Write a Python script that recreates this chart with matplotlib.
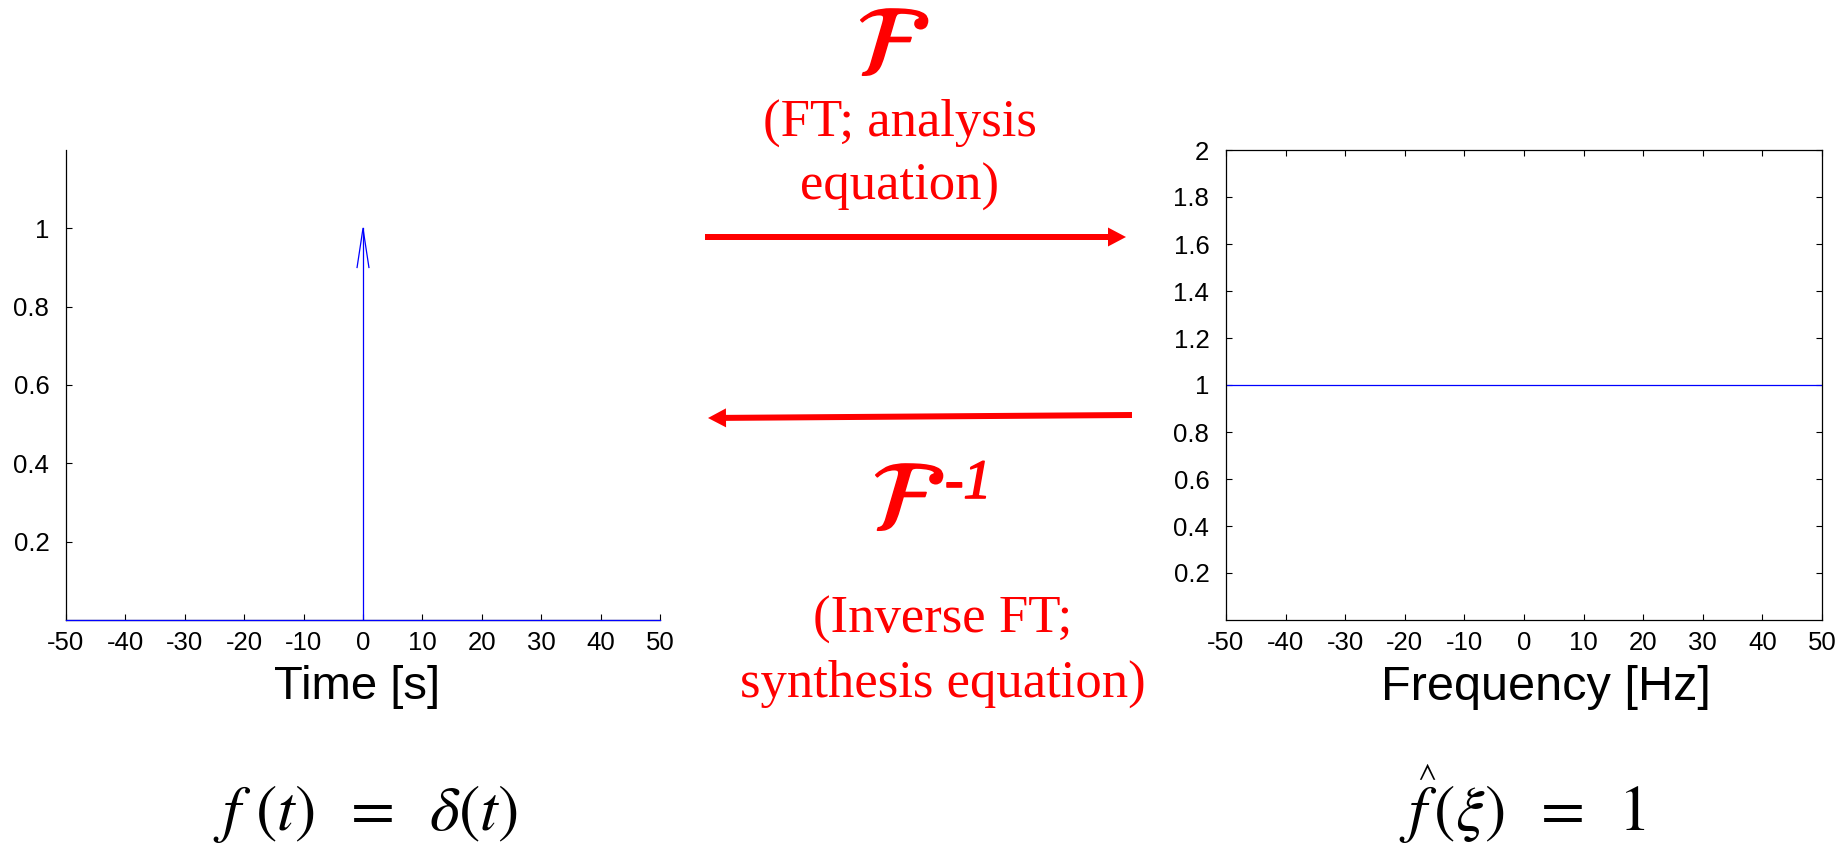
import matplotlib
matplotlib.use("Agg")
import matplotlib.pyplot as plt
import matplotlib.patheffects as pe
from matplotlib.patches import FancyArrow
from matplotlib.ticker import FuncFormatter

# time domain: unit impulse at t = 0
time_span = [-50, 50]
time_baseline = [0, 0]
impulse_t = [0, 0]
impulse_amp = [0, 1]
impulse_head_t = [-1, 0, 1]
impulse_head_amp = [0.9, 1, 0.9]

# frequency domain: flat spectrum
freq_span = [-50, 50]
spectrum_level = [1, 1]

x_ticks = [-50, -40, -30, -20, -10, 0, 10, 20, 30, 40, 50]
time_yticks = [0.2, 0.4, 0.6, 0.8, 1.0]
freq_yticks = [0.2, 0.4, 0.6, 0.8, 1.0, 1.2, 1.4, 1.6, 1.8, 2.0]

forward_label = "(FT; analysis\nequation)"
inverse_label = "(Inverse FT;\nsynthesis equation)"

W, H = 1849, 855
RED = "#ff0000"
BLUE = "#0000ff"

plt.rcParams["axes.unicode_minus"] = False
plt.rcParams["mathtext.fontset"] = "stix"
plt.rcParams["font.family"] = ["Liberation Sans", "DejaVu Sans"]

fig = plt.figure(figsize=(W / 100, H / 100), dpi=100)
fmt = FuncFormatter(lambda v, _: f"{v:g}")


def style_axis(ax):
    ax.set_xlim(-50, 50)
    ax.set_xticks(x_ticks)
    ax.xaxis.set_major_formatter(fmt)
    ax.yaxis.set_major_formatter(fmt)
    ax.tick_params(direction="in", length=4.5, width=0.8, labelsize=18.5, colors="black")
    ax.tick_params(axis="y", pad=12)
    ax.tick_params(axis="x", pad=8)
    for s in ax.spines.values():
        s.set_linewidth(0.9)


# left panel: impulse
ax_t = fig.add_axes([66 / W, 1 - 620 / H, 594 / W, 470 / H])
ax_t.plot(time_span, time_baseline, color=BLUE, lw=0.9, clip_on=False, zorder=3)
ax_t.plot(impulse_t, impulse_amp, color=BLUE, lw=0.9)
ax_t.plot(impulse_head_t, impulse_head_amp, color=BLUE, lw=0.9)
style_axis(ax_t)
ax_t.set_ylim(0, 1.2)
ax_t.set_yticks(time_yticks)
ax_t.spines["top"].set_visible(False)
ax_t.spines["right"].set_visible(False)
ax_t.set_xlabel("Time [s]", fontsize=34)
ax_t.xaxis.set_label_coords(0.49, -0.095)

# right panel: spectrum
ax_f = fig.add_axes([1226 / W, 1 - 620 / H, 596 / W, 470 / H])
ax_f.plot(freq_span, spectrum_level, color=BLUE, lw=0.9)
style_axis(ax_f)
ax_f.set_ylim(0, 2)
ax_f.set_yticks(freq_yticks)
ax_f.tick_params(top=True, right=True)
ax_f.set_xlabel("Frequency [Hz]", fontsize=35)
ax_f.xaxis.set_label_coords(0.537, -0.095)

# overlay in pixel units for the transform arrows and formulas
ov = fig.add_axes([0, 0, 1, 1])
ov.set_xlim(0, W)
ov.set_ylim(H, 0)
ov.axis("off")

thick = [pe.withStroke(linewidth=1.2, foreground=RED)]
ov.text(893, 50, r"$\mathcal{F}$", color=RED, fontsize=72, ha="center", va="center",
        path_effects=thick)
ov.text(900, 200, forward_label, color=RED, fontsize=38, family="Liberation Serif",
        ha="center", va="baseline", multialignment="center", linespacing=1.44)
ov.add_patch(FancyArrow(705, 237, 421, 0, width=6, head_width=19, head_length=18,
                        length_includes_head=True, color=RED, lw=0))
ov.add_patch(FancyArrow(1132, 415, -424, 3, width=6, head_width=19, head_length=18,
                        length_includes_head=True, color=RED, lw=0))
ov.text(908, 505, r"$\mathcal{F}$", color=RED, fontsize=72, ha="center", va="center",
        path_effects=thick)
ov.text(945, 498, "-1", color=RED, fontsize=40, family="Liberation Serif",
        style="italic", ha="left", va="baseline", path_effects=thick)
ov.text(943, 697, inverse_label, color=RED, fontsize=38, family="Liberation Serif",
        ha="center", va="baseline", multialignment="center", linespacing=1.42)

ov.text(365, 830, r"$f\,\,(t)\;\;=\;\;\delta(t)$", fontsize=46, ha="center", va="baseline")
ov.text(1522, 830, r"$f\,(\xi)\;\;=\;\;1$", fontsize=46, ha="center", va="baseline")
ov.text(1427, 772, r"$\wedge$", fontsize=20, ha="center", va="center")

fig.savefig("out.png", dpi=100)
